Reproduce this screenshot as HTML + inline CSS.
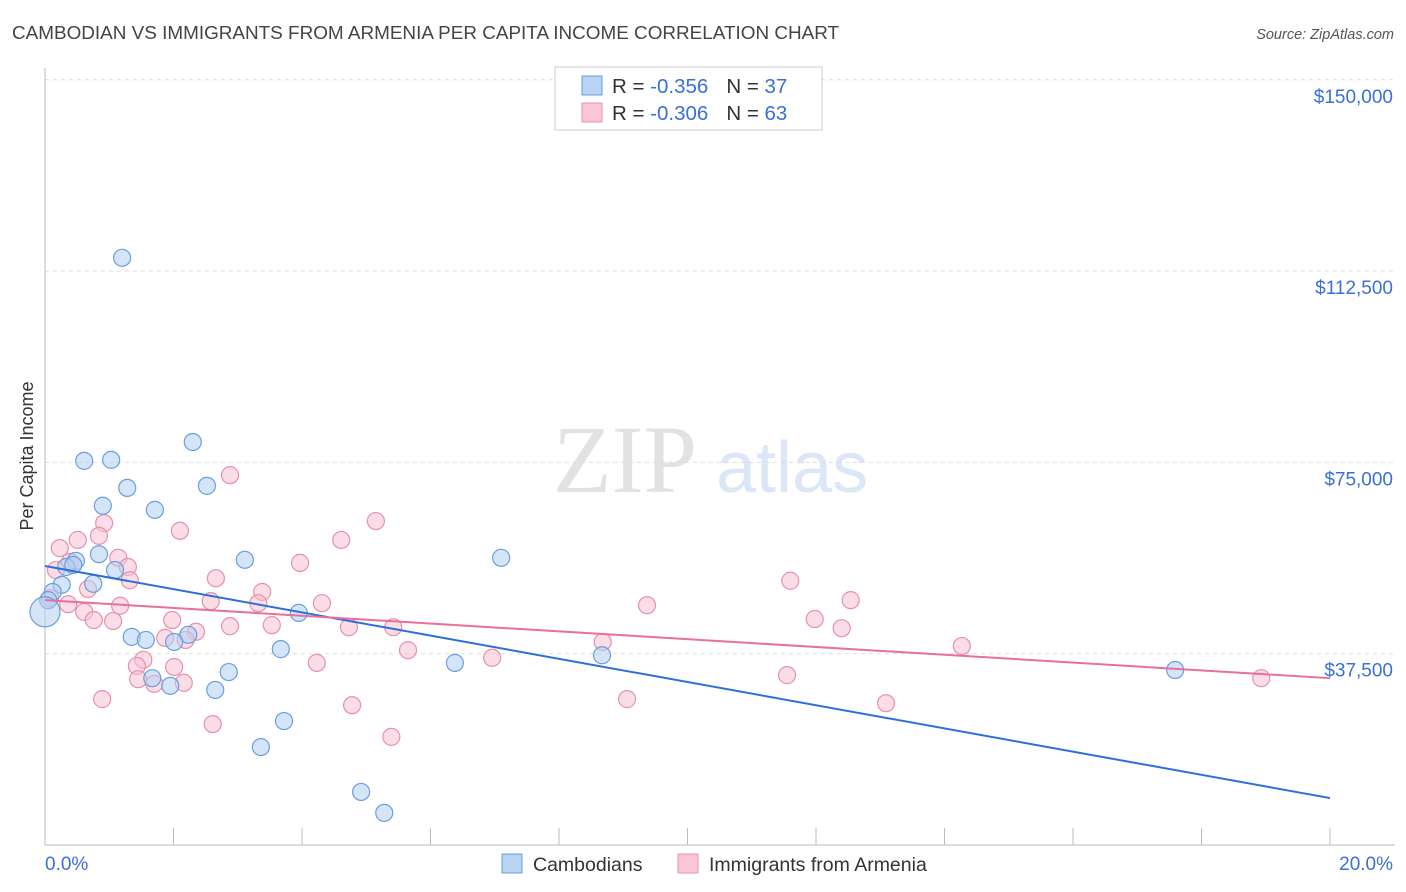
<!DOCTYPE html>
<html><head><meta charset="utf-8"><style>
body{margin:0;background:#fff;font-family:"Liberation Sans",sans-serif;}
svg{display:block}
</style></head><body>
<svg id="chart" width="1406" height="892">
<text x="12" y="39" font-size="18.9" fill="#444">CAMBODIAN VS IMMIGRANTS FROM ARMENIA PER CAPITA INCOME CORRELATION CHART</text>
<text x="1394" y="39" font-size="14.5" fill="#555" font-style="italic" text-anchor="end">Source: ZipAtlas.com</text>
<g>
<text x="553" y="492" font-family="Liberation Serif,serif" font-size="96" fill="#e2e2e2">ZIP</text>
<text x="716" y="492" font-size="72" fill="#dbe6f6">atlas</text>
</g>
<g id="grid"></g><g id="axes"></g><g id="pts"></g><g id="trend"></g>
<text x="33" y="456" font-size="18" fill="#333" text-anchor="middle" transform="rotate(-90 33 456)">Per Capita Income</text>
<g>
<rect x="555" y="67" width="267" height="63" fill="#fff" stroke="#ccc"/>
<rect x="582" y="76" width="20" height="19" fill="#b9d3f3" stroke="#6a9ee0"/>
<rect x="582" y="103" width="20" height="19" fill="#f9c7d6" stroke="#e890aa"/>
<text x="612" y="93" font-size="20.5" fill="#333">R = <tspan fill="#3a6fd8">-0.356</tspan><tspan dx="18">N = </tspan><tspan fill="#3a6fd8">37</tspan></text>
<text x="612" y="120" font-size="20.5" fill="#333">R = <tspan fill="#3a6fd8">-0.306</tspan><tspan dx="18">N = </tspan><tspan fill="#3a6fd8">63</tspan></text>
</g>
<g>
<rect x="502" y="854" width="20" height="19" fill="#b9d3f3" stroke="#6a9ee0"/>
<text x="533" y="871" font-size="19.5" fill="#333">Cambodians</text>
<rect x="678" y="854" width="20" height="19" fill="#f9c7d6" stroke="#e890aa"/>
<text x="709" y="871" font-size="19.5" fill="#333">Immigrants from Armenia</text>
</g>
</svg>
<script>
const yTicks=[37500,75000,112500,150000];
const yTickLabels=["$37,500","$75,000","$112,500","$150,000"];
const xTicks=[0,2,4,6,8,10,12,14,16,18,20];
const blueX=[1.20,2.30,0.61,1.03,1.28,2.52,0.90,1.71,0.84,0.48,3.11,7.10,0.33,1.09,0.75,0.26,0.12,3.95,1.35,1.57,2.23,2.01,3.67,6.38,8.67,17.59,2.86,1.67,1.95,2.65,3.72,3.36,4.92,5.28,0.05,0.44];
const blueY=[115.1,79.0,75.3,75.5,70.0,70.4,66.5,65.7,57.0,55.7,55.9,56.3,54.5,53.9,51.2,51.0,49.6,45.5,40.8,40.2,41.2,39.8,38.4,35.7,37.2,34.3,33.9,32.7,31.2,30.4,24.3,19.2,10.4,6.3,48.0,54.9];
const pinkX=[2.88,5.15,2.10,0.92,4.61,0.84,0.51,0.23,1.14,1.29,0.39,3.97,2.66,1.32,3.38,0.67,0.08,0.36,1.17,2.58,4.31,0.61,9.37,11.60,12.54,11.98,12.40,1.98,0.76,1.06,3.32,2.88,3.53,4.73,5.42,2.35,1.87,2.19,8.68,5.65,14.27,6.96,4.23,1.53,1.43,2.01,1.70,1.45,2.16,11.55,18.93,0.89,9.06,13.09,4.78,2.61,5.39,0.17];
const pinkY=[72.5,63.5,61.6,63.1,59.8,60.6,59.8,58.2,56.3,54.5,55.5,55.3,52.3,51.9,49.6,50.2,48.4,47.2,46.9,47.8,47.4,45.7,47.0,51.8,48.0,44.3,42.5,44.1,44.1,43.9,47.4,42.9,43.1,42.7,42.7,41.8,40.6,40.2,39.8,38.2,39.0,36.7,35.7,36.3,35.1,34.9,31.6,32.5,31.8,33.3,32.7,28.6,28.6,27.8,27.4,23.7,21.2,53.9];
const bigX=[0], bigY=[45.7];
const blueTrend=[54.7,9.2];
const pinkTrend=[48.0,32.7];
const NS="http://www.w3.org/2000/svg";
const X=v=>45+v/20*1285;
const Y=v=>845-v*1000/37500*191.3;
function mk(t,a,p){const e=document.createElementNS(NS,t);for(const k in a)e.setAttribute(k,a[k]);document.getElementById(p).appendChild(e);return e;}
yTicks.forEach((t,i)=>{
 const g=mk('line',{x1:45,x2:1395,y1:Y(t/1000),y2:Y(t/1000),stroke:'#ddd','stroke-dasharray':'4,4'},'grid');
 
 
 const l=mk('text',{x:1393,y:Y(t/1000)+23,'font-size':19,fill:'#3a6fd8','text-anchor':'end'},'axes');
 l.textContent=yTickLabels[i];
 
 
});
const ya=mk('line',{x1:45,x2:45,y1:68,y2:845,stroke:'#bbb'},'axes');


const xa=mk('line',{x1:45,x2:1395,y1:845,y2:845,stroke:'#bbb'},'axes');


xTicks.forEach(t=>{
 const k=mk('line',{x1:X(t),x2:X(t),y1:828,y2:845,stroke:'#bbb'},'axes');
 
 
});
const xl0=mk('text',{x:45,y:870,'font-size':19,fill:'#3a6fd8'},'axes');xl0.textContent=xTicks[0].toFixed(1)+'%';


const xl1=mk('text',{x:1393,y:870,'font-size':19,fill:'#3a6fd8','text-anchor':'end'},'axes');xl1.textContent=xTicks[xTicks.length-1].toFixed(1)+'%';


function pts(xs,ys,fill,stroke,name,r){xs.forEach((x,i)=>{
 const c=mk('circle',{cx:X(x),cy:Y(ys[i]),r:r,fill:fill,'fill-opacity':0.55,stroke:stroke,'stroke-width':1.2},'pts');
 
 
});}
pts(pinkX,pinkY,'#f6c1d2','#e890aa','point-armenia',8.5);
pts(blueX,blueY,'#b3cff2','#6a9ee0','point-cambodian',8.5);
pts(bigX,bigY,'#b3cff2','#6a9ee0','point-cambodian-large',15);
const bt=mk('line',{x1:X(0),y1:Y(blueTrend[0]),x2:X(20),y2:Y(blueTrend[1]),stroke:'#2d6fd8','stroke-width':2},'trend');


const pt=mk('line',{x1:X(0),y1:Y(pinkTrend[0]),x2:X(20),y2:Y(pinkTrend[1]),stroke:'#e8709a','stroke-width':2},'trend');


</script>
</body></html>
